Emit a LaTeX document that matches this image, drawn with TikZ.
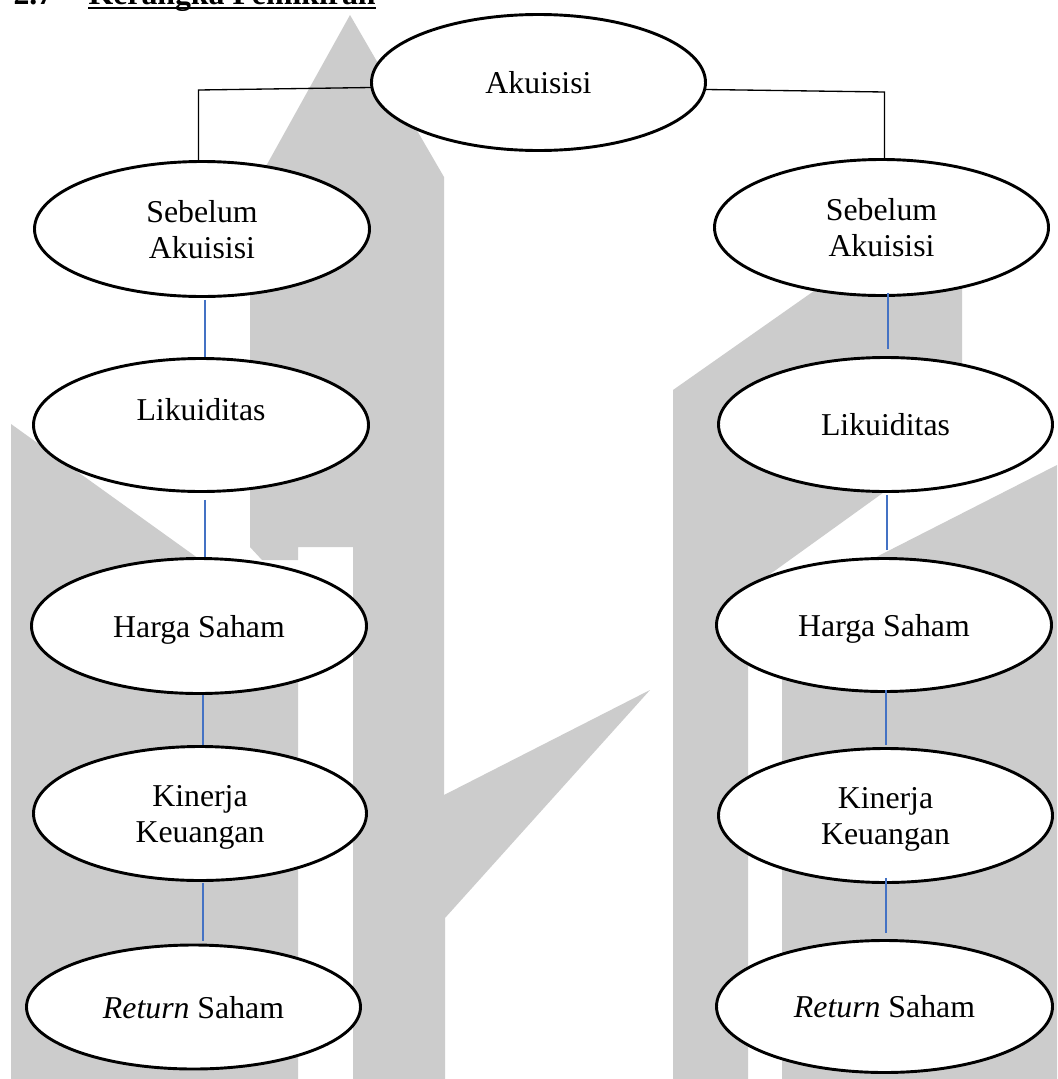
\documentclass[tikz,border=0pt]{standalone}
\usepackage{fontspec}
\setmainfont{Liberation Serif}
\usetikzlibrary{shapes.geometric,calc}
\definecolor{wm}{RGB}{204,204,204}
\definecolor{lnk}{RGB}{68,114,196}
\begin{document}
\begin{tikzpicture}[x=0.3774pt,y=-0.3774pt,
  ell/.style 2 args={ellipse,draw=black,fill=white,line width=1.1pt,
    minimum width=#1*0.3774pt,minimum height=#2*0.3774pt,inner sep=0pt,
    align=center,text depth=0pt,font=\fontsize{12pt}{13.6pt}\selectfont},
  txt/.style={inner sep=0pt,align=center,font=\fontsize{12pt}{13.6pt}\selectfont},
  ttl/.style={inner sep=0pt,anchor=base west,font=\fontsize{12pt}{13.6pt}\selectfont\bfseries},
  bl/.style={draw=lnk,line width=0.55pt},
  brk/.style={draw=black,line width=0.5pt},
  wmark/.style={fill=wm,draw=none}]
\useasboundingbox (0,0) rectangle (1057,1079);
\clip (0,0) rectangle (1057,1079);
\fill[white] (0,0) rectangle (1057,1079);

% watermark
\fill[wmark] (350,15) -- (444,177) -- (444,795) -- (650,690) -- (445,918) -- (445,1079)
  -- (353,1079) -- (353,547) -- (298,547) -- (298,560) -- (262,560) -- (250,547) -- (250,195) -- cycle;
\fill[wmark] (11,424) -- (298,630) -- (298,1079) -- (11,1079) -- cycle;
\fill[wmark] (673,390) -- (962,187) -- (962,436) -- (748,590) -- (748,1079) -- (673,1079) -- cycle;
\fill[wmark] (782,605) -- (1057,465) -- (1057,1079) -- (782,1079) -- cycle;

% title
\node[ttl] (tN) at (13,4) {2.7};
\node[ttl] (tT) at (88,4) {Kerangka Pemikiran};
\draw[line width=1pt] ($(tT.base west)+(0,4)$) -- ($(tT.base east)+(0,4)$);

% nodes
\node[ell={334}{136}] (aK) at (538.5,82.5) {Akuisisi};

\node[ell={335}{135}] (sL) at (202,229) {Sebelum\\Akuisisi};
\node[ell={335}{133}] (lL) at (201,425) {};
\node[txt,anchor=base] (lLt) at ($(lL.center)+(0,-5)$) {Likuiditas};
\node[ell={335}{135}] (hL) at (199,626) {Harga Saham};
\node[ell={333}{134}] (kL) at (200,813.5) {Kinerja\\Keuangan};
\node[ell={334}{124}] (rL) at (193.5,1007) {\textit{Return} Saham};

\node[ell={334}{136}] (sR) at (881.5,227.5) {Sebelum\\Akuisisi};
\node[ell={334}{134}] (lR) at (885.5,424.5) {Likuiditas};
\node[ell={335}{133}] (hR) at (884,625) {Harga Saham};
\node[ell={334}{134}] (kR) at (885.5,815.5) {Kinerja\\Keuangan};
\node[ell={336}{132}] (rR) at (884.5,1006.5) {\textit{Return} Saham};

% bracket connectors from Akuisisi
\coordinate (cL) at (198.5,90);
\coordinate (cR) at (884.5,92);
\draw[brk] ($(aK.west)+(1,5)$) -- (cL) -- (cL |- sL.north);
\draw[brk] ($(aK.east)+(-1,7)$) -- (cR) -- (cR |- sR.north);

% left chain
\draw[bl] ($(sL.south)+(3,2)$) coordinate (a1) -- (a1 |- lL.north);
\draw[bl] ($(lL.south)+(4,7)$) coordinate (a2) -- (a2 |- hL.north);
\draw[bl] ($(hL.south)+(4,0)$) coordinate (a3) -- (a3 |- kL.north);
\draw[bl] ($(kL.south)+(3,1)$) coordinate (a4) -- ($(a4 |- rL.north)+(0,-3)$);

% right chain
\draw[bl] ($(sR.south)+(6.5,-4)$) coordinate (b1) -- ($(b1 |- lR.north)+(0,-7)$);
\draw[bl] ($(lR.south)+(1.5,2)$) coordinate (b2) -- ($(b2 |- hR.north)+(0,-7)$);
\draw[bl] ($(hR.south)+(2,-3)$) coordinate (b3) -- ($(b3 |- kR.north)+(0,-2)$);
\draw[bl] ($(kR.south)+(0.5,-6)$) coordinate (b4) -- ($(b4 |- rR.north)+(0,-6)$);
\end{tikzpicture}
\end{document}
